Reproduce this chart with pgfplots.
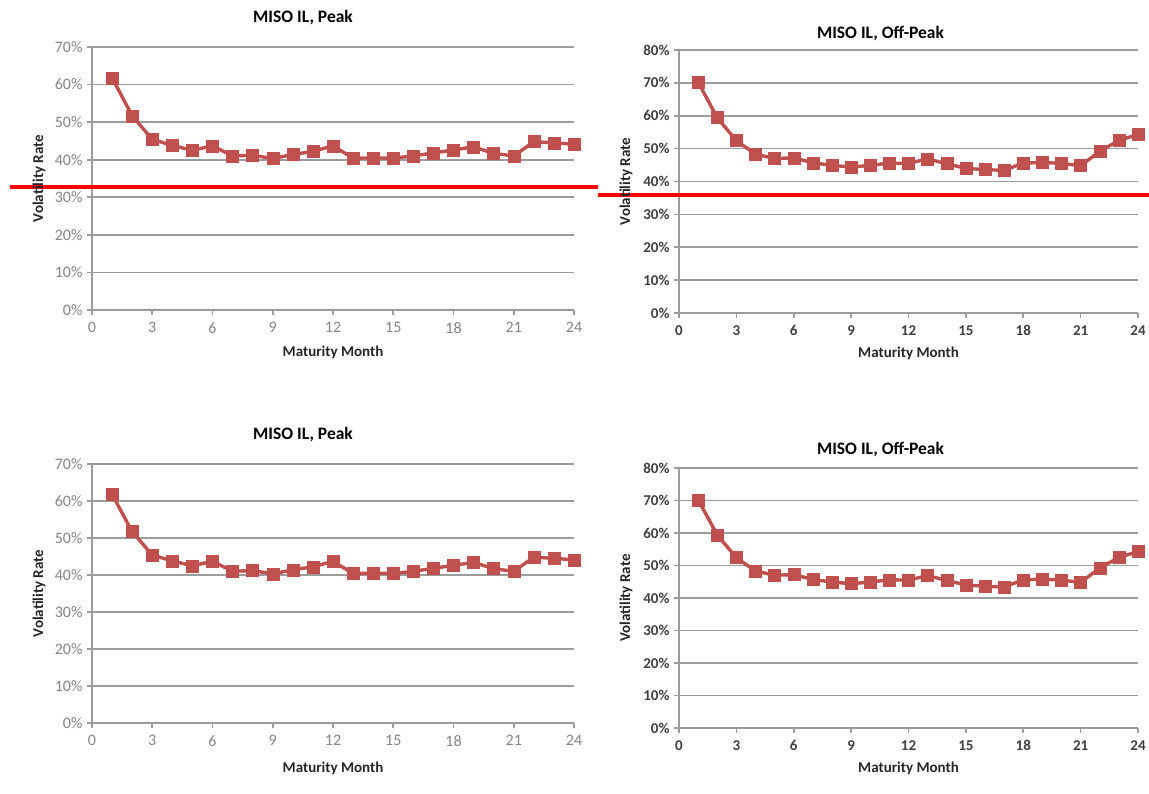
\documentclass[border=0pt]{standalone}
\usepackage{pgfplots}
\usepackage{pgfplotstable}
\pgfplotsset{compat=1.18}
\usepackage{fontspec}
\setmainfont{Carlito}
\definecolor{serc}{HTML}{C0504D}
\definecolor{gridc}{HTML}{9C9C9C}
\definecolor{tickc}{HTML}{858585}
\definecolor{tickd}{HTML}{404040}
\definecolor{labc}{HTML}{262626}

\pgfplotstableread{
m v
1 61.8
2 51.7
3 45.4
4 43.8
5 42.5
6 43.7
7 41.0
8 41.2
9 40.3
10 41.4
11 42.2
12 43.7
13 40.4
14 40.5
15 40.4
16 41.0
17 41.8
18 42.6
19 43.4
20 41.7
21 41.0
22 44.8
23 44.5
24 44.1
}\peak

\pgfplotstableread{
m v
1 70.2
2 59.4
3 52.4
4 48.3
5 47.0
6 47.2
7 45.7
8 44.9
9 44.4
10 44.9
11 45.6
12 45.5
13 46.9
14 45.4
15 44.0
16 43.6
17 43.4
18 45.6
19 45.8
20 45.5
21 44.8
22 49.2
23 52.5
24 54.3
}\offpeak

\pgfplotsset{
  excel/.style={
    scale only axis, xmin=0, xmax=24, ymin=0,
    xtick={0,3,...,24}, xticklabels={0,3,6,9,12,15,18,21,24},
    axis x line*=bottom, axis y line*=left,
    ymajorgrids, grid style={draw=gridc, line width=1.6pt},
    axis line style={draw=gridc, line width=1.6pt},
    major tick style={draw=gridc, line width=1.6pt},
    tick align=outside, major tick length=5pt,
    clip=false,
    tick label style={font=\fontsize{16}{18}\selectfont},
    xticklabel style={yshift=-4pt},
    yticklabel style={xshift=-1pt},
    label style={font=\bfseries\fontsize{15}{18}\selectfont, text=labc},
    title style={font=\bfseries\fontsize{17.5}{20}\selectfont, anchor=center, text=black},
    xlabel={Maturity Month}, ylabel={Volatility Rate},
  },
  serstyle/.style={color=serc, line width=3.4pt, mark=square*, mark size=6pt,
    mark options={solid, fill=serc, draw=serc, line width=0.5pt}},
  left panel/.style={ymax=70, ytick={0,10,...,70},
    yticklabels={0\%,10\%,20\%,30\%,40\%,50\%,60\%,70\%},
    tick label style={text=tickc}},
  right panel/.style={ymax=80, ytick={0,10,...,80},
    yticklabels={0\%,10\%,20\%,30\%,40\%,50\%,60\%,70\%,80\%},
    tick label style={text=tickd, font=\bfseries\fontsize{15}{18}\selectfont}},
}

\begin{document}
\begin{tikzpicture}
\useasboundingbox (0,0) rectangle (1149pt,793pt);
\fill[white] (0,0) rectangle (1149pt,793pt);

% Top left
\begin{axis}[excel, left panel, at={(92pt,483pt)}, anchor=south west,
  width=482pt, height=263pt,
  title={MISO IL, Peak},
  title style={at={([xshift=-30pt,yshift=23pt]axis description cs:0.5,1)}},
  xlabel style={at={([yshift=-42pt]axis description cs:0.5,0)}, anchor=center},
  ylabel style={at={([xshift=-53pt]axis description cs:0,0.5)}, anchor=center}]
\addplot[serstyle] table[x=m, y=v] {\peak};
\addplot[draw=red, line width=4pt, no marks] coordinates {(-4.1,32.7) (25.2,32.7)};
\end{axis}

% Top right
\begin{axis}[excel, right panel, at={(679pt,480pt)}, anchor=south west,
  width=459pt, height=263pt,
  title={MISO IL, Off-Peak},
  title style={at={([xshift=-28pt,yshift=10pt]axis description cs:0.5,1)}},
  xlabel style={at={([yshift=-40pt]axis description cs:0.5,0)}, anchor=center},
  ylabel style={at={([xshift=-53pt]axis description cs:0,0.5)}, anchor=center}]
\addplot[serstyle] table[x=m, y=v] {\offpeak};
\addplot[draw=red, line width=4pt, no marks] coordinates {(-4.24,35.9) (24.58,35.9)};
\end{axis}

% Bottom left
\begin{axis}[excel, left panel, at={(92pt,70pt)}, anchor=south west,
  width=482pt, height=259pt,
  title={MISO IL, Peak},
  title style={at={([xshift=-30pt,yshift=23pt]axis description cs:0.5,1)}},
  xlabel style={at={([yshift=-45pt]axis description cs:0.5,0)}, anchor=center},
  ylabel style={at={([xshift=-53pt]axis description cs:0,0.5)}, anchor=center}]
\addplot[serstyle] table[x=m, y=v] {\peak};
\end{axis}

% Bottom right
\begin{axis}[excel, right panel, at={(679pt,65pt)}, anchor=south west,
  width=459pt, height=260pt,
  title={MISO IL, Off-Peak},
  title style={at={([xshift=-28pt,yshift=12pt]axis description cs:0.5,1)}},
  xlabel style={at={([yshift=-40pt]axis description cs:0.5,0)}, anchor=center},
  ylabel style={at={([xshift=-53pt]axis description cs:0,0.5)}, anchor=center}]
\addplot[serstyle] table[x=m, y=v] {\offpeak};
\end{axis}
\end{tikzpicture}
\end{document}
